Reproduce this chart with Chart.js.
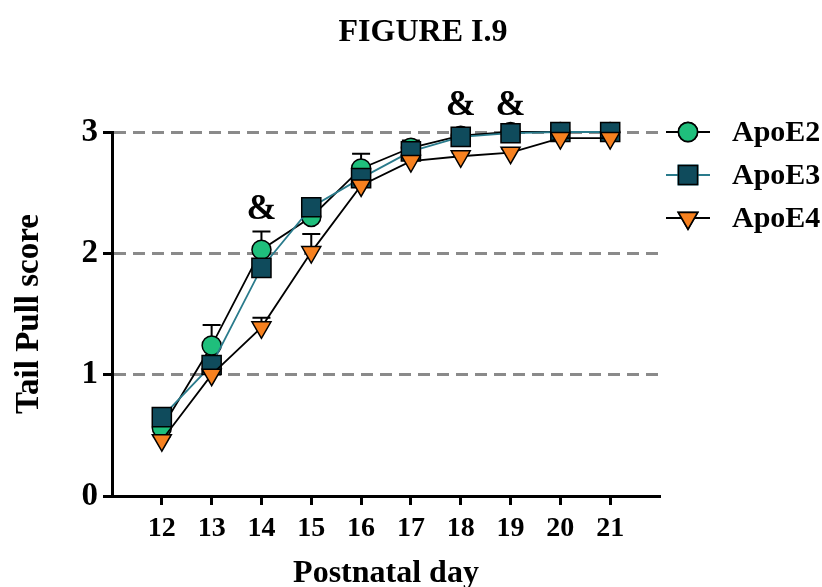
<!DOCTYPE html>
<html>
<head>
<meta charset="utf-8">
<script src="https://cdn.jsdelivr.net/npm/chart.js@4.4.1/dist/chart.umd.min.js"></script>
<style>
  html, body { margin: 0; padding: 0; background: #fff; }
  #wrap { width: 822px; height: 587px; }
</style>
</head>
<body>
<div id="wrap"><canvas id="tailChart" width="822" height="587"></canvas></div>
<script>
// postnatal days (x ticks)
const days = [12, 13, 14, 15, 16, 17, 18, 19, 20, 21];
const yTicks = [0, 1, 2, 3];

// mean tail pull scores
const apoE2 = [0.56, 1.24, 2.03, 2.30, 2.70, 2.87, 2.97, 3.00, 3.00, 3.00];
const apoE3 = [0.65, 1.08, 1.88, 2.38, 2.62, 2.84, 2.96, 2.99, 3.00, 3.00];
const apoE4 = [0.46, 1.00, 1.39, 2.01, 2.56, 2.76, 2.80, 2.83, 2.95, 2.95];

// upper error bars (SEM)
const apoE2Err = [0.04, 0.17, 0.15, 0.05, 0.12, 0.06, 0.03, 0.02, 0, 0];
const apoE3Err = [0.04, 0.05, 0.05, 0.04, 0.04, 0.04, 0.03, 0.02, 0, 0];
const apoE4Err = [0.03, 0.03, 0.08, 0.15, 0.04, 0.04, 0.03, 0.03, 0.02, 0.02];

// significance marks
const sigDays = [14, 18, 19];
const sigY = [2.36, 3.22, 3.22];

const serif = "'Liberation Serif', 'DejaVu Serif', serif";

function pts(vals) {
    return days.map((d, i) => ({ x: d, y: vals[i] }));
}

// error bars drawn behind the markers
const errorBars = {
    id: 'errorBars',
    beforeDatasetsDraw(chart) {
        const ctx = chart.ctx;
        const xs = chart.scales.x, ys = chart.scales.y;
        ctx.save();
        ctx.strokeStyle = '#000';
        ctx.lineWidth = 2;
        chart.data.datasets.forEach(ds => {
            ds.errors.forEach((e, i) => {
                if (!e) return;
                const px = xs.getPixelForValue(days[i]);
                const y0 = ys.getPixelForValue(ds.data[i].y);
                const y1 = ys.getPixelForValue(ds.data[i].y + e);
                ctx.beginPath();
                ctx.moveTo(px, y0);
                ctx.lineTo(px, y1);
                ctx.moveTo(px - 9, y1);
                ctx.lineTo(px + 9, y1);
                ctx.stroke();
            });
        });
        ctx.restore();
    }
};

// title, "&" marks and the legend on the right
const extras = {
    id: 'extras',
    afterDraw(chart) {
        const ctx = chart.ctx;
        const xs = chart.scales.x, ys = chart.scales.y;
        ctx.save();
        ctx.fillStyle = '#000';
        ctx.textAlign = 'center';
        ctx.textBaseline = 'middle';
        ctx.font = 'bold 32px ' + serif;
        ctx.fillText('FIGURE I.9', 423, 33);

        ctx.font = 'bold 36px ' + serif;
        sigDays.forEach((d, i) => {
            ctx.fillText('&', xs.getPixelForValue(d), ys.getPixelForValue(sigY[i]));
        });

        // legend
        const lx = 688, ly0 = 132, gap = 43;
        chart.data.datasets.slice().sort((a, b) => a.legendOrder - b.legendOrder).forEach((ds, i) => {
            const y = ly0 + i * gap;
            ctx.strokeStyle = ds.borderColor;
            ctx.lineWidth = 2;
            ctx.beginPath();
            ctx.moveTo(lx - 22, y);
            ctx.lineTo(lx + 22, y);
            ctx.stroke();
            Chart.helpers.drawPoint(ctx, {
                pointStyle: ds.pointStyle,
                rotation: ds.pointRotation || 0,
                radius: ds.pointRadius,
                borderWidth: 1.5
            }, lx, y);
            ctx.fillStyle = ds.pointBackgroundColor;
            ctx.strokeStyle = '#000';
            ctx.lineWidth = 1.5;
            ctx.fill();
            ctx.stroke();
            ctx.fillStyle = '#000';
            ctx.font = 'bold 30px ' + serif;
            ctx.textAlign = 'left';
            ctx.fillText(ds.label, lx + 44, y + 1);
        });
        ctx.restore();
    }
};

const ctx = document.getElementById('tailChart').getContext('2d');
new Chart(ctx, {
    type: 'line',
    data: {
        datasets: [
            {
                label: 'ApoE4',
                legendOrder: 2,
                order: 0,
                data: pts(apoE4),
                errors: apoE4Err,
                borderColor: '#000',
                borderWidth: 1.8,
                pointStyle: 'triangle',
                pointRotation: 180,
                pointRadius: 11,
                pointBackgroundColor: '#f7811f',
                pointBorderColor: '#000',
                pointBorderWidth: 1.5,
                clip: false
            },
            {
                label: 'ApoE2',
                legendOrder: 0,
                order: 2,
                data: pts(apoE2),
                errors: apoE2Err,
                borderColor: '#000',
                borderWidth: 1.8,
                pointStyle: 'circle',
                pointRadius: 9.5,
                pointBackgroundColor: '#1fbf7c',
                pointBorderColor: '#000',
                pointBorderWidth: 1.5,
                clip: false
            },
            {
                label: 'ApoE3',
                legendOrder: 1,
                order: 1,
                data: pts(apoE3),
                errors: apoE3Err,
                borderColor: '#2a7b8c',
                borderWidth: 1.8,
                pointStyle: 'rect',
                pointRadius: 13.5,
                pointBackgroundColor: '#0f4b5c',
                pointBorderColor: '#000',
                pointBorderWidth: 1.5,
                clip: false
            }
        ]
    },
    options: {
        responsive: false,
        animation: false,
        layout: { padding: { top: 132, right: 162, bottom: 0, left: 0 } },
        plugins: {
            legend: { display: false },
            tooltip: { enabled: false }
        },
        scales: {
            x: {
                type: 'linear',
                min: 11,
                max: 22,
                afterBuildTicks(scale) { scale.ticks = days.map(v => ({ value: v })); },
                afterFit(scale) { scale.height = 91; },
                ticks: {
                    color: '#000',
                    padding: 7,
                    maxRotation: 0,
                    font: { family: serif, size: 28, weight: 'bold' }
                },
                grid: {
                    drawOnChartArea: false,
                    drawTicks: true,
                    tickLength: 9,
                    tickColor: '#000',
                    tickWidth: 3
                },
                border: { display: true, color: '#000', width: 3 },
                title: {
                    display: true,
                    text: 'Postnatal day',
                    color: '#000',
                    font: { family: serif, size: 32, weight: 'bold' },
                    padding: { top: 0, bottom: -6 }
                }
            },
            y: {
                min: 0,
                max: 3,
                afterBuildTicks(scale) { scale.ticks = yTicks.map(v => ({ value: v })); },
                afterFit(scale) { scale.width = 112; },
                ticks: {
                    color: '#000',
                    padding: 5,
                    font: { family: serif, size: 33, weight: 'bold' }
                },
                grid: {
                    color: c => (c.tick && c.tick.value === 0) ? 'rgba(0,0,0,0)' : '#8a8a8a',
                    lineWidth: 3,
                    tickLength: 9,
                    tickColor: '#000',
                    tickWidth: 3,
                    tickBorderDash: []
                },
                border: { display: true, color: '#000', width: 3, dash: [12, 7] },
                title: {
                    display: true,
                    text: 'Tail Pull score',
                    color: '#000',
                    font: { family: serif, size: 33, weight: 'bold' },
                    padding: { top: 10, bottom: 0 }
                }
            }
        }
    },
    plugins: [errorBars, extras]
});
</script>
</body>
</html>
